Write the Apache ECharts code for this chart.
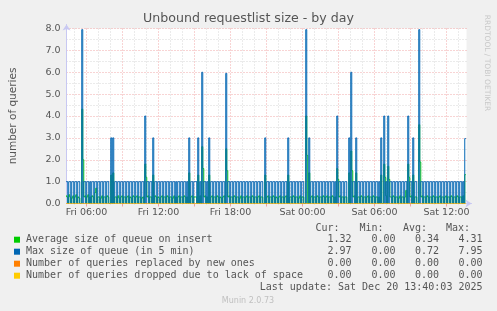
<!DOCTYPE html>
<html><head><meta charset="utf-8">
<script src="https://cdn.jsdelivr.net/npm/echarts@6/dist/echarts.min.js"></script>
<style>html,body{margin:0;padding:0;background:#f0f0f0}#c{width:497px;height:311px}</style>
</head><body><div id="c"></div>
<script>
// time: hours since Fri 00:00; first sample Fri 04:20, one sample per 5 minutes
const startHour = 4 + 20 / 60;
const stepHours = 5 / 60;

const maxQueue = [
1,1,0,1,1,0,1,1,0,1,1,0,1,1,0,0,7.95,0,1,1,
0,1,1,0,1,0,1,1,0,1,1,0,1,1,0,1,1,0,1,1,
0,1,1,0,0,3,0,3,0,1,1,0,1,1,0,1,1,0,1,1,
0,1,1,0,1,1,0,1,1,0,1,1,0,1,1,0,1,1,0,4,
0,1,1,0,1,1,0,3,0,1,1,0,1,1,0,1,1,0,1,1,
0,1,1,0,1,1,0,1,1,0,1,0,1,1,0,1,1,0,1,1,
0,1,0,3,0,1,1,0,1,1,1,0,3,0,1,0,6,0,1,1,
0,1,0,3,0,1,1,0,1,1,0,1,1,0,1,1,0,1,1,0,
5.95,0,1,1,0,1,1,0,1,1,0,1,1,0,1,1,0,1,1,0,
1,1,0,1,1,0,1,1,0,1,1,0,1,1,0,1,1,0,0,3,
0,1,1,0,1,1,0,1,1,0,1,1,0,1,1,0,1,1,0,1,
1,0,3,0,1,1,0,1,1,0,1,1,0,1,1,0,1,1,0,0,
7.95,0,0,3,0,1,1,0,1,1,0,1,1,0,1,1,0,1,1,0,
1,1,0,1,1,0,1,1,0,1,0,4,0,1,1,0,1,1,0,1,
1,0,0,3,0,6,0,1,1,0,3,0,1,1,0,1,1,0,1,1,
0,1,1,0,1,1,0,1,1,0,1,1,0,1,0,3,0,0,4,0,
1,0,4,0,1,1,0,1,1,0,1,1,0,1,1,0,1,1,0,1,
1,0,4,0,1,1,0,3,0,1,1,0,0,7.95,0,1,1,0,1,1,
0,1,1,0,1,1,0,1,1,0,1,1,0,1,1,0,1,1,0,1,
1,0,1,1,0,1,1,0,1,1,0,1,1,0,1,1,0,1,0,2.97
];

const avgQueue = [
0.35,0.3,0,0.4,0.3,0,0.25,0.35,0,0.3,0.4,0,0.3,0.25,0,0,4.31,2.0,0.3,0.35,
0,0.3,0.4,0,0.3,0,0.35,0.3,0,0.5,0.7,0,0.3,0.3,0,0.25,0.35,0,0.3,0.3,
0,0.35,0.3,0,0,1.3,0,1.4,0,0.3,0.3,0,0.35,0.25,0,0.3,0.35,0,0.3,0.3,
0,0.3,0.35,0,0.3,0.25,0,0.35,0.3,0,0.3,0.35,0,0.3,0.3,0,0.25,0.3,0,1.8,
1.2,0.3,0.35,0,0.3,0.3,0,1.3,0,0.35,0.3,0,0.3,0.25,0,0.3,0.35,0,0.3,0.3,
0,0.35,0.3,0,0.3,0.3,0,0.25,0.35,0,0.3,0,0.3,0.35,0,0.3,0.3,0,0.35,0.3,
0,0.3,0,1.4,0,0.3,0.35,0,0.3,0.3,0.3,0,1.3,0,0.35,0,2.6,1.6,0.3,0.35,
0,0.3,0,1.3,0,0.3,0.35,0,0.3,0.3,0,0.35,0.3,0,0.3,0.25,0,0.3,0.35,0,
2.5,1.5,0.3,0.35,0,0.3,0.3,0,0.35,0.3,0,0.3,0.3,0,0.25,0.35,0,0.3,0.3,0,
0.3,0.35,0,0.3,0.3,0,0.35,0.3,0,0.3,0.3,0,0.3,0.35,0,0.3,0.3,0,0,1.3,
0,0.3,0.35,0,0.3,0.3,0,0.35,0.3,0,0.3,0.25,0,0.3,0.35,0,0.3,0.3,0,0.3,
0.35,0,1.3,0,0.3,0.3,0,0.35,0.3,0,0.3,0.3,0,0.25,0.35,0,0.3,0.3,0,0,
4.0,2.2,0,1.4,0,0.3,0.35,0,0.3,0.3,0,0.35,0.3,0,0.3,0.3,0,0.35,0.3,0,
0.3,0.35,0,0.3,0.3,0,0.35,0.3,0,0.3,0,1.6,1.1,0.3,0.35,0,0.3,0.3,0,0.3,
0.3,0,0,1.4,0,2.4,1.5,0.3,0.35,0,1.4,0,0.3,0.3,0,0.35,0.3,0,0.3,0.3,
0,0.3,0.35,0,0.3,0.3,0,0.35,0.3,0,0.3,0.3,0,0.3,0,1.3,0,0,1.8,1.2,
0.35,0,1.7,1.1,0.3,0.3,0,0.35,0.3,0,0.3,0.3,0,0.25,0.35,0,0.3,0.3,0,0.3,
0.6,0,1.8,1.2,0.3,0.35,0,1.3,0,0.3,0.3,0,0,3.6,1.9,0.3,0.35,0,0.3,0.3,
0,0.35,0.3,0,0.3,0.3,0,0.35,0.3,0,0.3,0.3,0,0.3,0.35,0,0.3,0.3,0,0.3,
0.35,0,0.3,0.3,0,0.35,0.3,0,0.3,0.3,0,0.35,0.3,0,0.3,0.3,0,0.35,0,1.32
];

const replacedQueries = Array(400).fill(0);
const droppedQueries = Array(400).fill(0);

const labelHours = [6, 12, 18, 24, 30, 36];
const labelTexts = ['Fri 06:00', 'Fri 12:00', 'Fri 18:00', 'Sat 00:00', 'Sat 06:00', 'Sat 12:00'];
const majorGridHours = [6, 9, 12, 15, 18, 21, 24, 27, 30, 33, 36];
const minorGridHours = [5,7,8,10,11,13,14,16,17,19,20,22,23,25,26,28,29,31,32,34,35,37];

const seriesNames = ['Average size of queue on insert', 'Max size of queue (in 5 min)',
  'Number of queries replaced by new ones', 'Number of queries dropped due to lack of space'];
const seriesColors = ['#00CC00', '#0066B3', '#FF8000', '#FFCC00'];
const curVals = [1.32, 2.97, 0, 0];
const minVals = [0, 0, 0, 0];
const avgVals = [0.34, 0.72, 0, 0];
const maxVals = [4.31, 7.95, 0, 0];
const statHeaders = ['Cur:', 'Min:', 'Avg:', 'Max:'];
const titleText = 'Unbound requestlist size - by day';
const yName = 'number of queries';
const lastUpdate = 'Last update: Sat Dec 20 13:40:03 2025';
const footer = 'Munin 2.0.73';
const sideText = 'RRDTOOL / TOBI OETIKER';

const allSeriesData = [avgQueue, maxQueue, replacedQueries, droppedQueries];
const endHour = startHour + maxQueue.length * stepHours;

const chart = echarts.init(document.getElementById('c'), null, {renderer: 'canvas'});
const sans = 'DejaVu Sans';
const mono = 'DejaVu Sans Mono';
const textCol = '#555';
const majorCol = 'rgba(230,110,110,0.6)';
const minorCol = '#d6d6d6';

const graphic = [];
graphic.push({type: 'text', x: 248.5, y: 19, style: {text: titleText, font: '12.6px "' + sans + '"', fill: textCol, align: 'center', verticalAlign: 'middle'}});
graphic.push({type: 'text', x: 487, y: 63, rotation: -Math.PI / 2, style: {text: sideText, font: '7.5px "' + sans + '"', fill: '#c8c8c8', align: 'center', verticalAlign: 'middle'}});
const headerRight = [339.5, 383.5, 427, 470];
statHeaders.forEach((h, k) => graphic.push({type: 'text', x: headerRight[k], y: 228.5, style: {text: h, font: '10px "' + mono + '"', fill: textCol, align: 'right', verticalAlign: 'middle'}}));
const colRight = [351.5, 395.5, 439, 482.5];
seriesNames.forEach((n, k) => {
  const yy = 239.7 + 12 * k;
  graphic.push({type: 'rect', shape: {x: 14, y: yy - 3, width: 6, height: 6}, style: {fill: seriesColors[k]}});
  graphic.push({type: 'text', x: 26, y: yy, style: {text: n, font: '10px "' + mono + '"', fill: textCol, align: 'left', verticalAlign: 'middle'}});
  [curVals, minVals, avgVals, maxVals].forEach((arr, c) => {
    graphic.push({type: 'text', x: colRight[c], y: yy, style: {text: arr[k].toFixed(2), font: '10px "' + mono + '"', fill: textCol, align: 'right', verticalAlign: 'middle'}});
  });
});
graphic.push({type: 'text', x: 482.5, y: 287.5, style: {text: lastUpdate, font: '10px "' + mono + '"', fill: textCol, align: 'right', verticalAlign: 'middle'}});
graphic.push({type: 'text', x: 248, y: 300.5, style: {text: footer, font: '8px "' + sans + '"', fill: '#c0c0c0', align: 'center', verticalAlign: 'middle'}});

// rrdtool-style staircase line: each sample drawn as a vertical jump then a flat step
function stepRenderer(color) {
  return function (params, api) {
    const t = api.value(0), v = api.value(1), pv = api.value(2);
    const a = api.coord([t - stepHours, pv]);
    const b = api.coord([t - stepHours, v]);
    const c = api.coord([t, v]);
    return {type: 'polyline', silent: true,
      shape: {points: params.dataIndex === 0 ? [b, c] : [a, b, c]},
      style: {stroke: color, lineWidth: 1, fill: null}};
  };
}

const option = {
  animation: false,
  backgroundColor: '#f0f0f0',
  grid: [
    {left: 66.5, top: 28.5, width: 400, height: 175, show: true, backgroundColor: '#ffffff', borderWidth: 0,
     containLabel: false, outerBoundsMode: 'none'},
    {left: 66.5, top: 24.5, right: 25.5, bottom: 107.5, show: false, containLabel: false, outerBoundsMode: 'none'}
  ],
  xAxis: [
    {type: 'value', gridIndex: 0, min: startHour, max: endHour,
     axisLine: {show: false},
     axisTick: {show: true, customValues: majorGridHours, length: 3, lineStyle: {color: majorCol}},
     axisLabel: {customValues: labelHours, color: textCol, fontFamily: sans, fontSize: 9.5, margin: 4,
       formatter: v => labelTexts[labelHours.indexOf(Math.round(v))] || ''},
     splitLine: {show: true, lineStyle: {color: majorCol, type: [1, 2], width: 1}}},
    {type: 'value', gridIndex: 0, min: startHour, max: endHour, position: 'bottom',
     axisLine: {show: false},
     axisTick: {show: true, customValues: minorGridHours, length: 1, lineStyle: {color: minorCol}},
     axisLabel: {show: false, customValues: minorGridHours},
     splitLine: {show: true, lineStyle: {color: minorCol, type: [1, 2], width: 1}}},
    {type: 'value', gridIndex: 1, min: 0, max: 1,
     axisLine: {show: true, symbol: ['none', 'arrow'], symbolSize: [6, 6], lineStyle: {color: '#c8c8f2', width: 1}},
     axisTick: {show: false}, axisLabel: {show: false}, splitLine: {show: false}},
    // data axis: same time scale, slightly offset so samples sit between pixel boundaries like rrdtool
    {type: 'value', gridIndex: 0, min: startHour - stepHours / 4, max: endHour - stepHours / 4, show: false,
     splitLine: {show: false}}
  ],
  yAxis: [
    {type: 'value', gridIndex: 0, min: 0, max: 8, interval: 1,
     name: yName, nameLocation: 'middle', nameGap: 48, nameRotate: 90,
     nameTextStyle: {color: textCol, fontFamily: sans, fontSize: 10.5},
     axisLine: {show: false}, axisTick: {show: false},
     axisLabel: {color: textCol, fontFamily: sans, fontSize: 9.5, margin: 6, formatter: v => v.toFixed(1)},
     splitLine: {show: true, lineStyle: {color: majorCol, type: [1, 2], width: 1}},
     minorTick: {show: false, splitNumber: 2},
     minorSplitLine: {show: true, lineStyle: {color: minorCol, type: [1, 2], width: 1}}},
    {type: 'value', gridIndex: 1, min: 0, max: 1,
     axisLine: {show: true, symbol: ['none', 'arrow'], symbolSize: [6, 6], lineStyle: {color: '#c8c8f2', width: 1}},
     axisTick: {show: false}, axisLabel: {show: false}, splitLine: {show: false}}
  ],
  series: allSeriesData.map((arr, k) => ({
    type: 'custom', name: seriesNames[k], xAxisIndex: 3, yAxisIndex: 0,
    coordinateSystem: 'cartesian2d',
    data: arr.map((v, i) => [startHour + i * stepHours, v, i > 0 ? arr[i - 1] : v]),
    encode: {x: 0, y: 1},
    renderItem: stepRenderer(seriesColors[k]),
    clip: true, silent: true, z: 3 + k
  })),
  graphic: graphic
};
chart.setOption(option);
</script></body></html>
